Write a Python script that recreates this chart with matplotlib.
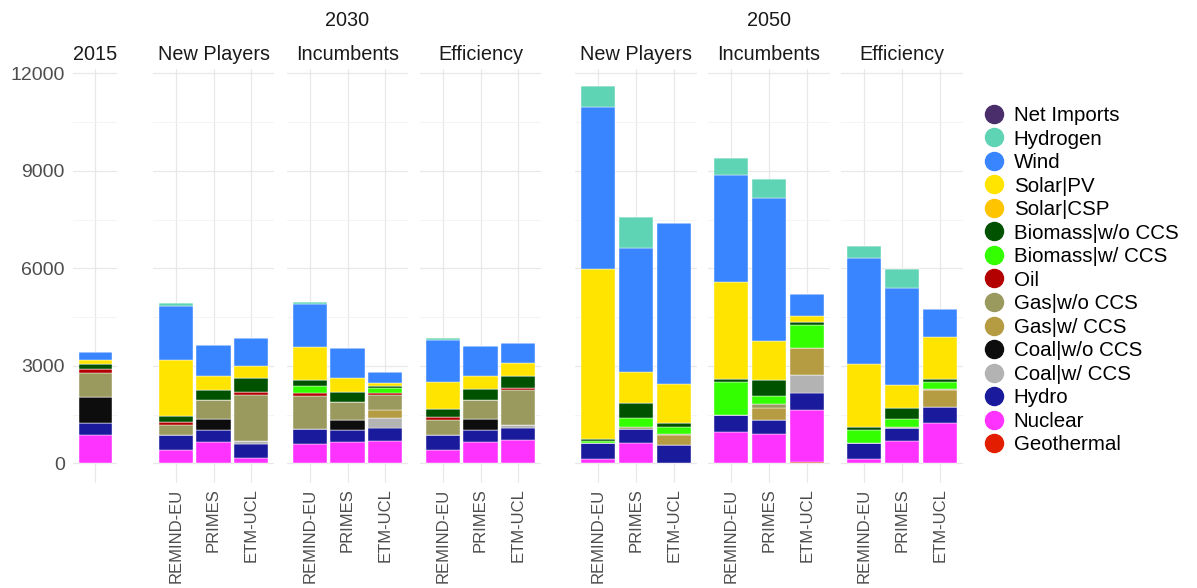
import matplotlib
matplotlib.use('Agg')
import matplotlib.pyplot as plt
from matplotlib.lines import Line2D
import numpy as np

plt.rcParams['font.family'] = ['Liberation Sans', 'DejaVu Sans']

# bars: 2015, then (REMIND-EU, PRIMES, ETM-UCL) for each scenario
years = ['2015', '2030', '2030', '2030', '2050', '2050', '2050']
scenarios = ['2015', 'New Players', 'Incumbents', 'Efficiency',
             'New Players', 'Incumbents', 'Efficiency']
models = ['REMIND-EU', 'PRIMES', 'ETM-UCL']

# values per technology, 19 bars in the order above
geothermal = [0, 0, 0, 0, 0, 0, 0, 0, 0, 0, 0, 0, 0, 0, 0, 50, 0, 0, 0]
nuclear = [880, 430, 670, 180, 600, 670, 700, 430, 670, 710, 145, 640, 30, 970, 920, 1600, 145, 690, 1240]
hydro = [380, 460, 360, 410, 460, 360, 400, 460, 360, 390, 500, 410, 530, 520, 420, 510, 495, 390, 510]
coal_ccs = [0, 0, 0, 100, 0, 0, 310, 0, 0, 70, 0, 0, 0, 0, 0, 565, 0, 0, 0]
coal = [770, 0, 350, 0, 0, 310, 0, 0, 330, 0, 0, 0, 0, 0, 0, 0, 0, 0, 0]
gas_ccs = [0, 0, 0, 0, 0, 0, 240, 0, 0, 0, 0, 0, 320, 0, 380, 825, 0, 0, 500]
gas = [740, 300, 560, 1410, 1000, 540, 470, 460, 600, 1090, 0, 80, 40, 0, 100, 0, 0, 40, 30]
oil = [150, 80, 0, 85, 100, 0, 40, 85, 0, 75, 0, 0, 0, 0, 0, 0, 0, 0, 0]
biomass_ccs = [0, 0, 0, 0, 230, 0, 150, 0, 0, 0, 40, 280, 200, 1030, 260, 720, 380, 260, 230]
biomass = [150, 200, 330, 430, 180, 330, 70, 230, 330, 360, 60, 440, 120, 70, 490, 85, 115, 340, 80]
solar_csp = [0] * 19
solar_pv = [100, 1700, 410, 370, 1000, 410, 80, 840, 390, 380, 5220, 970, 1210, 2990, 1200, 185, 1915, 700, 1300]
wind = [270, 1670, 950, 880, 1340, 930, 360, 1290, 930, 630, 5000, 3810, 4930, 3300, 4400, 660, 3275, 2980, 870]
hydrogen = [0, 100, 0, 0, 50, 0, 0, 60, 0, 0, 640, 940, 0, 500, 565, 0, 370, 595, 0]
net_imports = [0] * 19

# stacking order bottom -> top
techs = ['Geothermal', 'Nuclear', 'Hydro', 'Coal|w/ CCS', 'Coal|w/o CCS', 'Gas|w/ CCS',
         'Gas|w/o CCS', 'Oil', 'Biomass|w/ CCS', 'Biomass|w/o CCS', 'Solar|CSP',
         'Solar|PV', 'Wind', 'Hydrogen', 'Net Imports']
series = [geothermal, nuclear, hydro, coal_ccs, coal, gas_ccs, gas, oil, biomass_ccs,
          biomass, solar_csp, solar_pv, wind, hydrogen, net_imports]
colors = ['#e31e00', '#ff33ff', '#1a1a9c', '#b3b3b3', '#0d0d0d', '#b59b42',
          '#9a9a5e', '#b30000', '#33ff00', '#005200', '#ffc400',
          '#ffe400', '#3885ff', '#5fd4b4', '#4a2d6b']

W, H = 1197, 588
fig = plt.figure(figsize=(W / 100, H / 100), dpi=100)

def fx(x):
    return x / W

def fy(y):
    return 1 - y / H

top, bottom = 69, 483
panel_left = [73, 153, 287, 420, 575, 708, 841]
panel_width = [44, 121, 121, 121, 122, 122, 122]

start = 0
for i in range(7):
    n = 1 if i == 0 else 3
    ax = fig.add_axes([fx(panel_left[i]), fy(bottom), panel_width[i] / W, (bottom - top) / H])
    x = np.arange(1, n + 1)
    base = np.zeros(n)
    for vals, c in zip(series, colors):
        v = np.array(vals[start:start + n], dtype=float)
        ax.bar(x, v, bottom=base, width=0.9, color=c, edgecolor='white', linewidth=0.3, zorder=3)
        base += v
    ax.set_xlim(0.4, n + 0.6)
    ax.set_ylim(-600, 12130)
    ax.set_xticks(x)
    ax.set_xticklabels([''] if n == 1 else models, rotation=90, fontsize=12, color='#4d4d4d')
    ax.set_yticks([0, 3000, 6000, 9000, 12000])
    ax.set_yticks([1500, 4500, 7500, 10500], minor=True)
    ax.grid(True, which='major', color='#e8e8e8', linewidth=0.9, zorder=0)
    ax.grid(True, which='minor', axis='y', color='#f2f2f2', linewidth=0.6, zorder=0)
    ax.tick_params(which='both', length=0)
    ax.tick_params(axis='x', pad=4)
    if i == 0:
        ax.tick_params(axis='y', labelsize=14, labelcolor='#4d4d4d', pad=6)
    else:
        ax.set_yticklabels([])
    for s in ax.spines.values():
        s.set_visible(False)
    fig.text(fx(panel_left[i] + panel_width[i] / 2), fy(54), scenarios[i],
             ha='center', va='center', fontsize=14.3, color='#1a1a1a')
    start += n

fig.text(fx((153 + 541) / 2), fy(20), '2030', ha='center', va='center', fontsize=14.3, color='#1a1a1a')
fig.text(fx((575 + 963) / 2), fy(20), '2050', ha='center', va='center', fontsize=14.3, color='#1a1a1a')

handles = [Line2D([], [], marker='o', linestyle='', markersize=13, color=c)
           for c in colors[::-1]]
fig.legend(handles, techs[::-1], loc='upper left', bbox_to_anchor=(fx(983), fy(106)),
           frameon=False, fontsize=14.8, labelspacing=0.22, handletextpad=0.4,
           handlelength=1.1, borderpad=0, borderaxespad=0)

fig.savefig('out.png', dpi=100)
